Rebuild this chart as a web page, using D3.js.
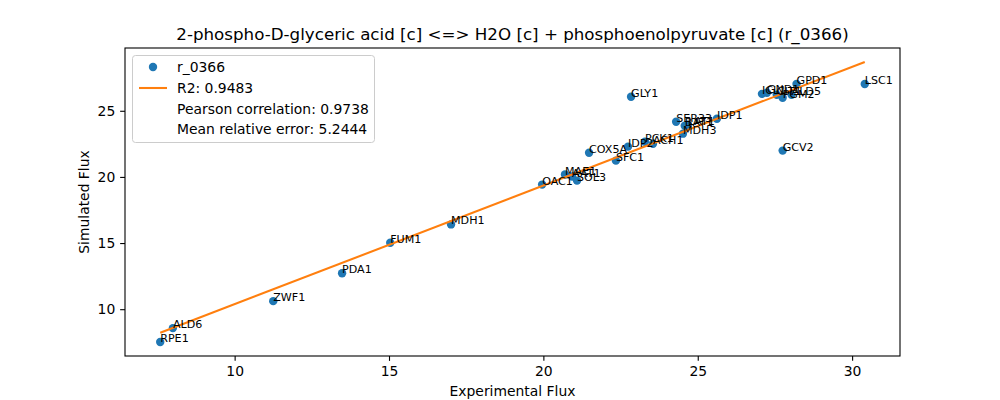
<!DOCTYPE html>
<html>
<head>
<meta charset="utf-8">
<script src="https://cdn.jsdelivr.net/npm/d3@7"></script>
<style>
  body { margin: 0; background: #fff; }
  svg { display: block; font-family: "DejaVu Sans", sans-serif; }
</style>
</head>
<body>
<svg id="chart" width="1000" height="400"></svg>
<script>
// ---- data ----
const genes = ["RPE1","ALD6","ZWF1","PDA1","FUM1","MDH1","OAC1","MAE1","AAT1","SOL3",
  "COX5A","SFC1","IDP2","PCK1","ACH1","GLY1","SER33","BAT1","LAT1","MDH3","IDP1",
  "GCV2","ICL1","GND1","CIT1","PGM2","ALD5","GPD1","LSC1"];
const experimental = [7.59, 8.00, 11.25, 13.48, 15.04, 17.01, 19.96, 20.70, 20.93, 21.09,
  21.48, 22.35, 22.74, 23.29, 23.55, 22.84, 24.30, 24.58, 24.68, 24.52, 25.62,
  27.75, 27.08, 27.24, 27.56, 27.75, 28.04, 28.20, 30.41];
const simulated = [7.52, 8.57, 10.61, 12.72, 15.02, 16.41, 19.42, 20.18, 20.03, 19.72,
  21.83, 21.23, 22.29, 22.66, 22.51, 26.06, 24.17, 23.87, 23.95, 23.27, 24.40,
  21.99, 26.28, 26.36, 26.21, 25.98, 26.21, 27.03, 27.03];
const fitSlope = 0.897;
const fitIntercept = 1.41;
const xTicks = [10, 15, 20, 25, 30];
const yTicks = [10, 15, 20, 25];
const legendLabels = ["r_0366", "R2: 0.9483", "Pearson correlation: 0.9738", "Mean relative error: 5.2444"];
const titleText = "2-phospho-D-glyceric acid [c] <=> H2O [c] + phosphoenolpyruvate [c] (r_0366)";

// ---- layout ----
const svg = d3.select("#chart");
const L = 125, R = 900, T = 48, B = 356;
const blue = "#1f77b4", orange = "#ff7f0e";

const xMin = d3.min(experimental), xMax = d3.max(experimental);
const fitY = x => fitIntercept + fitSlope * x;
const yAll = simulated.concat([fitY(xMin), fitY(xMax)]);
const yMin = d3.min(yAll), yMax = d3.max(yAll);
const xPad = (xMax - xMin) * 0.05, yPad = (yMax - yMin) * 0.05;

const x = d3.scaleLinear().domain([xMin - xPad, xMax + xPad]).range([L, R]);
const y = d3.scaleLinear().domain([yMin - yPad, yMax + yPad]).range([B, T]);

// points
svg.append("g").selectAll("circle").data(genes).join("circle")
  .attr("cx", (d, i) => x(experimental[i]))
  .attr("cy", (d, i) => y(simulated[i]))
  .attr("r", 4.2)
  .attr("fill", blue);

// fit line
const lineData = [xMin, xMax];
svg.append("path")
  .attr("d", d3.line().x(d => x(d)).y(d => y(fitY(d)))(lineData))
  .attr("stroke", orange).attr("stroke-width", 2.08).attr("fill", "none");

// labels
svg.append("g").selectAll("text").data(genes).join("text")
  .attr("x", (d, i) => x(experimental[i]))
  .attr("y", (d, i) => y(simulated[i]))
  .attr("font-size", 11.1)
  .attr("fill", "#000")
  .text(d => d);

// axes
const xAxis = svg.append("g").attr("transform", `translate(0,${B})`)
  .call(d3.axisBottom(x).tickValues(xTicks).tickSize(4.86).tickPadding(4.86).tickFormat(d3.format("d")));
const yAxis = svg.append("g").attr("transform", `translate(${L},0)`)
  .call(d3.axisLeft(y).tickValues(yTicks).tickSize(4.86).tickPadding(4.86).tickFormat(d3.format("d")));
[xAxis, yAxis].forEach(g => {
  g.select(".domain").remove();
  g.selectAll(".tick line").attr("stroke", "#000").attr("stroke-width", 1.1);
  g.selectAll(".tick text").attr("font-size", 13.9).attr("fill", "#000")
    .attr("font-family", "DejaVu Sans, sans-serif");
});

// frame
svg.append("rect").attr("x", L).attr("y", T).attr("width", R - L).attr("height", B - T)
  .attr("fill", "none").attr("stroke", "#000").attr("stroke-width", 1.1);

// title & axis labels
svg.append("text").attr("x", (L + R) / 2).attr("y", 40).attr("text-anchor", "middle")
  .attr("font-size", 16.7).attr("fill", "#000").text(titleText);
svg.append("text").attr("x", (L + R) / 2).attr("y", 396).attr("text-anchor", "middle")
  .attr("font-size", 13.9).attr("fill", "#000").text("Experimental Flux");
svg.append("text").attr("transform", `translate(89,${(T + B) / 2}) rotate(-90)`)
  .attr("text-anchor", "middle").attr("font-size", 13.9).attr("fill", "#000").text("Simulated Flux");

// legend
const lg = svg.append("g");
lg.append("rect").attr("x", 132.5).attr("y", 55.5).attr("width", 242).attr("height", 87)
  .attr("rx", 3).attr("fill", "#fff").attr("fill-opacity", 0.8)
  .attr("stroke", "#cccccc").attr("stroke-width", 1);
const rowY = [67, 88, 109, 129];
lg.append("circle").attr("cx", 153).attr("cy", rowY[0]).attr("r", 4.2).attr("fill", blue);
lg.append("line").attr("x1", 139).attr("x2", 167).attr("y1", rowY[1]).attr("y2", rowY[1])
  .attr("stroke", orange).attr("stroke-width", 2.08);
lg.selectAll("text.lt").data(legendLabels).join("text").attr("class", "lt")
  .attr("x", 177).attr("y", (d, i) => rowY[i]).attr("dy", "0.35em")
  .attr("font-size", 13.9).attr("fill", "#000").text(d => d);
</script>
</body>
</html>
